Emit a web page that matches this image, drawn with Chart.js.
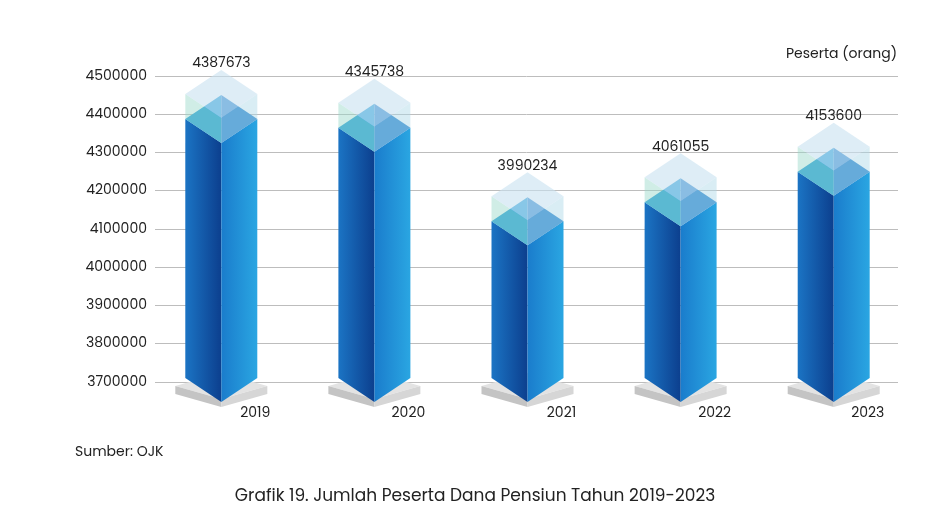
<!DOCTYPE html>
<html><head><meta charset="utf-8">
<script src="https://cdn.jsdelivr.net/npm/chart.js@4"></script>
<style>html,body{margin:0;padding:0;background:#fff}#w{width:950px;height:521px;position:relative}</style>
</head><body><div id="w"><canvas id="c" width="950" height="521"></canvas></div>
<script>
const categories=["2019","2020","2021","2022","2023"];
const values=[4387673,4345738,3990234,4061055,4153600];
const barTops=[4387673,4365000,4120000,4170000,4250000];
const yTicks=[3700000,3800000,3900000,4000000,4100000,4200000,4300000,4400000,4500000];
const F='Poppins, "Open Sans", "Noto Sans", sans-serif';
const draw3d={id:'d3',beforeDatasetsDraw(ch){
 const ctx=ch.ctx,meta=ch.getDatasetMeta(0),ys=ch.scales.y;
 const d=24,hw=36,cap=25;
 meta.data.forEach((el,i)=>{
  const x=el.x,y=el.y,b=ys.getPixelForValue(3700000);
  ctx.save();
  const pw=46,pd=13,py=b+4;
  ctx.fillStyle='#e3e3e3';ctx.beginPath();ctx.moveTo(x-pw,py);ctx.lineTo(x,py-pd);ctx.lineTo(x+pw,py);ctx.lineTo(x,py+pd);ctx.closePath();ctx.fill();
  ctx.fillStyle='#c4c4c4';ctx.beginPath();ctx.moveTo(x-pw,py);ctx.lineTo(x,py+pd);ctx.lineTo(x,py+pd+8);ctx.lineTo(x-pw,py+8);ctx.closePath();ctx.fill();
  ctx.fillStyle='#d6d6d6';ctx.beginPath();ctx.moveTo(x+pw,py);ctx.lineTo(x,py+pd);ctx.lineTo(x,py+pd+8);ctx.lineTo(x+pw,py+8);ctx.closePath();ctx.fill();
  let g=ctx.createLinearGradient(x-hw,0,x,0);g.addColorStop(0,'#1b74c4');g.addColorStop(1,'#0c3f8e');
  ctx.fillStyle=g;ctx.beginPath();ctx.moveTo(x-hw,y);ctx.lineTo(x,y+d);ctx.lineTo(x,b+d-4);ctx.lineTo(x-hw,b-4);ctx.closePath();ctx.fill();
  g=ctx.createLinearGradient(x,0,x+hw,0);g.addColorStop(0,'#1a7ccc');g.addColorStop(1,'#2aa6e2');
  ctx.fillStyle=g;ctx.beginPath();ctx.moveTo(x+hw,y);ctx.lineTo(x,y+d);ctx.lineTo(x,b+d-4);ctx.lineTo(x+hw,b-4);ctx.closePath();ctx.fill();
  ctx.fillStyle='#2aa0da';ctx.beginPath();ctx.moveTo(x-hw,y);ctx.lineTo(x,y-d);ctx.lineTo(x,y+d);ctx.closePath();ctx.fill();
  ctx.fillStyle='#2f88d0';ctx.beginPath();ctx.moveTo(x+hw,y);ctx.lineTo(x,y-d);ctx.lineTo(x,y+d);ctx.closePath();ctx.fill();
  ctx.fillStyle='rgba(150,215,200,0.45)';ctx.beginPath();ctx.moveTo(x-hw,y);ctx.lineTo(x-hw,y-cap);ctx.lineTo(x,y-cap+d);ctx.lineTo(x,y+d);ctx.closePath();ctx.fill();
  ctx.fillStyle='rgba(170,215,230,0.45)';ctx.beginPath();ctx.moveTo(x+hw,y);ctx.lineTo(x+hw,y-cap);ctx.lineTo(x,y-cap+d);ctx.lineTo(x,y+d);ctx.closePath();ctx.fill();
  ctx.fillStyle='rgba(200,225,240,0.6)';ctx.beginPath();ctx.moveTo(x-hw,y-cap);ctx.lineTo(x,y-cap-d);ctx.lineTo(x+hw,y-cap);ctx.lineTo(x,y-cap+d);ctx.closePath();ctx.fill();
  ctx.fillStyle='#222';ctx.font='14px '+F;ctx.textAlign='center';ctx.textBaseline='middle';
  ctx.fillText(values[i].toString(),x,y-55);
  ctx.fillText(categories[i],x+34,b+31);
  ctx.restore();
 });
 ctx.save();ctx.fillStyle='#222';ctx.font='14px '+F;ctx.textAlign='right';ctx.textBaseline='middle';
 ctx.fillText('Peserta (orang)',897,54);
 ctx.textAlign='left';ctx.fillText('Sumber: OJK',75,452);
 ctx.textAlign='center';ctx.font='17px '+F;ctx.fillText('Grafik 19. Jumlah Peserta Dana Pensiun Tahun 2019-2023',475,497);
 ctx.restore();
}};
new Chart(document.getElementById('c'),{type:'bar',
 data:{labels:categories,datasets:[{data:barTops.map((v,i)=>({x:i,y:v})),backgroundColor:'rgba(0,0,0,0)',barThickness:72}]},
 options:{responsive:false,animation:false,layout:{padding:{top:76,bottom:139,left:0,right:52}},
  plugins:{legend:{display:false},tooltip:{enabled:false}},
  scales:{x:{type:'linear',display:false,offset:false,min:-0.433,max:4.42},
   y:{min:3700000,max:4500000,afterFit:s=>{s.width=155},afterBuildTicks:s=>{s.ticks=yTicks.map(v=>({value:v}))},
    border:{display:false},grid:{color:'#bdbdbd',drawTicks:false},
    ticks:{color:'#222',font:{size:14,family:F},padding:8,callback:v=>String(v)}}}},
 plugins:[draw3d]});
</script></body></html>
